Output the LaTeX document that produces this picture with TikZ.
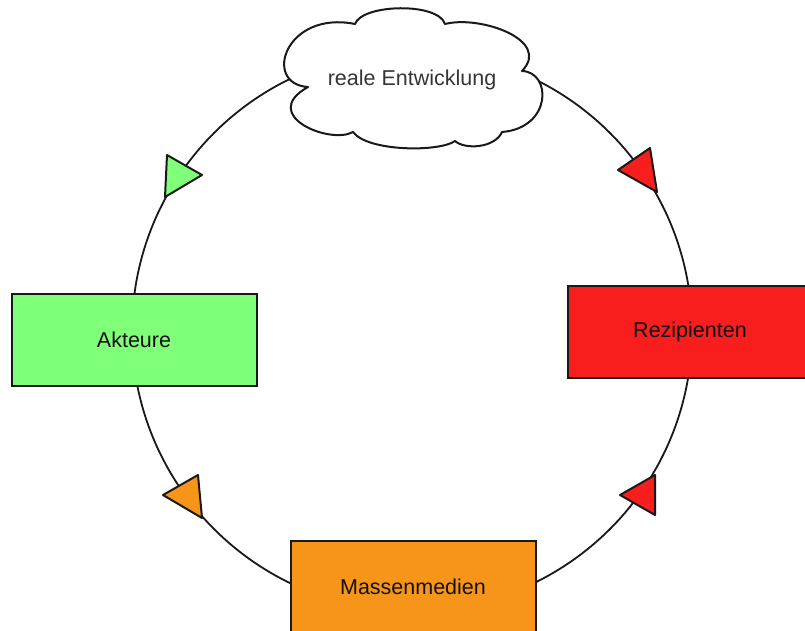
\documentclass[tikz,border=0pt]{standalone}
\usepackage{fontspec}
\setmainfont{Liberation Sans}
\definecolor{gbox}{HTML}{80FF78}
\definecolor{rbox}{HTML}{F81E1E}
\definecolor{obox}{HTML}{F7951A}
\definecolor{txt}{HTML}{111111}
\tikzset{
  box/.style={draw=black!90, line width=2pt, minimum width=245pt, minimum height=92pt, inner sep=0pt, font=\fontsize{21.5}{25}\selectfont, text=txt},
  tri/.style={draw=black!90, line width=2pt, line join=round},
  ring/.style={draw=black!90, line width=1.8pt},
  cloudline/.style={draw=black!90, line width=2pt, fill=white, line join=round},
  label/.style={font=\fontsize{21.5}{25}\selectfont, text=txt!85, inner sep=0pt}
}
\begin{document}
\begin{tikzpicture}[x=1pt,y=-1pt]
\useasboundingbox (0,0) rectangle (805,631);
\clip (0,0) rectangle (805,631);
\fill[white] (0,0) rectangle (805,631);
\coordinate (c) at (412,331);
\draw[ring] (c) circle[radius=280pt];
\node[box, fill=gbox] (akt) at (134,340) {Akteure};
\node[box, fill=rbox] (rez) at (690,332) {Rezipienten};
\node[box, fill=obox] (mas) at (413,587) {Massenmedien};
% cloud
\filldraw[cloudline] (308,87)
  .. controls (262,84) and (285,10) .. (355,24)
  .. controls (362,4) and (438,2) .. (445,24)
  .. controls (480,15) and (552,40) .. (522,71)
  .. controls (552,72) and (552,128) .. (502,132)
  .. controls (495,148) and (465,150) .. (455,141)
  .. controls (440,152) and (368,152) .. (353,132)
  .. controls (330,145) and (258,115) .. (308,87) -- cycle;
\node[label] (real) at (412,80) {reale Entwicklung};
\filldraw[tri, fill=gbox] (167,155) -- (202,175) -- (165,197) -- cycle;
\filldraw[tri, fill=rbox] (650,148) -- (618,170) -- (657,192) -- cycle;
\filldraw[tri, fill=obox] (198,475) -- (163,495) -- (202,518) -- cycle;
\filldraw[tri, fill=rbox] (655,475) -- (620,495) -- (655,515) -- cycle;
\end{tikzpicture}
\end{document}
